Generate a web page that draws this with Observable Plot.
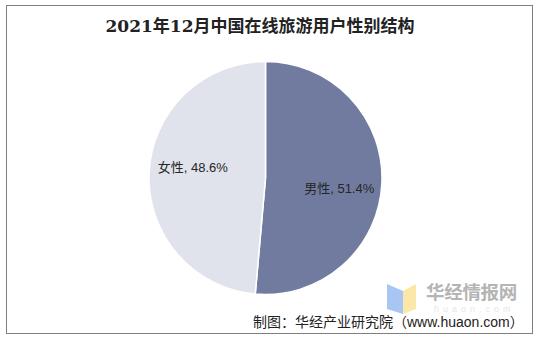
<!DOCTYPE html>
<html>
<head>
<meta charset="utf-8">
<script src="https://cdn.jsdelivr.net/npm/d3@7"></script>
<script src="https://cdn.jsdelivr.net/npm/@observablehq/plot@0.6"></script>
<style>
  html, body { margin: 0; padding: 0; background: #fff; }
  #wrap { position: relative; width: 543px; height: 341px; overflow: hidden; }
  #frame { position: absolute; left: 6px; top: 5px; width: 527px; height: 329px; border: 1.5px solid #7f7f7f; box-sizing: border-box; }
  #title { position: absolute; left: 0; width: 520px; top: 15px; text-align: center;
           font-family: "DejaVu Serif", "Liberation Serif", "Noto Sans CJK SC", serif; font-weight: bold; font-size: 17px; color: #222; line-height: 22px; }
  #chart { position: absolute; left: 0; top: 50px; }
  #wm { position: absolute; left: 386px; top: 282px; width: 32px; height: 34px; }
  #wmtext { position: absolute; left: 426px; top: 282px; font-family: "Noto Sans CJK SC", sans-serif; font-weight: bold; font-size: 18.5px; color: #b4b4b4; line-height: 18px; height: 18px; letter-spacing: -0.3px; }
  #wmsub { position: absolute; left: 434px; top: 305px; font-family: "Liberation Sans", sans-serif; font-size: 9px; color: #e6e6e6; line-height: 8px; height: 8px; letter-spacing: 4px; }
  #caption { position: absolute; left: 253px; top: 315px; font-family: "Liberation Sans", "Noto Sans CJK SC", sans-serif; font-size: 14px; color: #222; line-height: 15px; white-space: nowrap; }
</style>
</head>
<body>
<div id="wrap">
  <div id="frame"></div>
  <div id="title"></div>
  <div id="chart"></div>
  <svg id="wm" width="32" height="34" viewBox="0 0 32 34">
    <polygon points="1,2 17,9 17,32 1,27" fill="#a8c6f3"/>
    <polygon points="17,9 30,2 30,27 17,32" fill="#fbe8a8"/>
  </svg>
  <div id="wmtext">华经情报网</div>
  <div id="wmsub">huaon.com</div>
  <div id="caption"></div>
</div>
<script>
const titleText = "2021年12月中国在线旅游用户性别结构";
const captionText = "制图：华经产业研究院（www.huaon.com）";
const categories = ["男性", "女性"];
const shares = [51.4, 48.6];
const colors = ["#707b9f", "#e0e3eb"];

document.getElementById("title").textContent = titleText;
document.getElementById("caption").textContent = captionText;

const data = categories.map((c, i) => ({category: c, value: shares[i]}));
const arcs = d3.pie().sort(null).value(d => d.value)(data);

const labelRadius = 0.635;
const labelTurn = 5.6 * Math.PI / 180;
const labels = arcs.map(a => {
  const mid = (a.startAngle + a.endAngle) / 2 + labelTurn;
  return {
    x: labelRadius * Math.sin(mid),
    y: labelRadius * Math.cos(mid),
    text: `${a.data.category}, ${a.data.value.toFixed(1)}%`
  };
});

function pieMark(...args) {
  const scales = args.find(a => a && typeof a.x === "function" && typeof a.y === "function");
  const cx = scales.x(0), cy = scales.y(0);
  const r = Math.abs(scales.x(1) - scales.x(0));
  const arc = d3.arc().innerRadius(0).outerRadius(r);
  const g = d3.create("svg:g").attr("transform", `translate(${cx},${cy})`);
  g.selectAll("path").data(arcs).join("path")
    .attr("d", arc)
    .attr("fill", (d, i) => colors[i])
    .attr("stroke", "#ffffff")
    .attr("stroke-width", 1.5)
    .attr("stroke-linejoin", "round");
  return g.node();
}

const chart = Plot.plot({
  width: 543,
  height: 255,
  margin: 0,
  style: {background: "transparent", overflow: "visible"},
  x: {domain: [-1, 1], range: [149, 382], axis: null},
  y: {domain: [-1, 1], range: [244.5, 11.5], axis: null},
  marks: [
    pieMark,
    Plot.text(labels, {
      x: "x", y: "y", text: "text",
      fontSize: 13,
      fill: "#262626",
      fontFamily: "Liberation Sans, Noto Sans CJK SC, sans-serif",
      textAnchor: "middle"
    })
  ]
});
document.getElementById("chart").appendChild(chart);
</script>
</body>
</html>
